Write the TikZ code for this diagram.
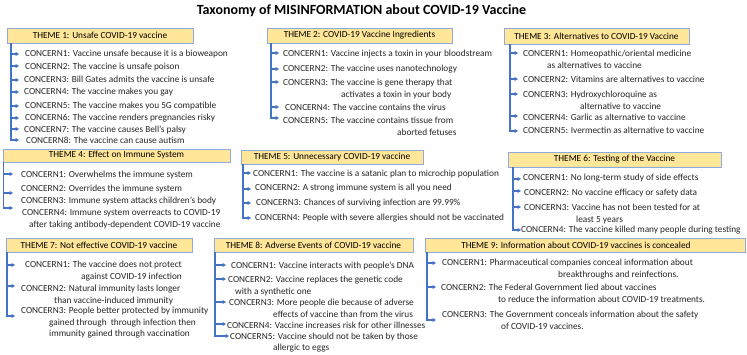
\documentclass[tikz,border=0pt]{standalone}
\usepackage{fontspec}
\setmainfont{Carlito}
\usetikzlibrary{arrows.meta}
\definecolor{linkblue}{RGB}{68,114,196}
\definecolor{boxfill}{RGB}{255,230,153}
\definecolor{boxline}{RGB}{143,170,220}
% optional arg: number of extra lines (base anchor = last line's baseline)
\newcommand\cn[5][0]{\node[concern] (#2) at (#3,#4+3+#1*11.5) {#5};}
\newcommand\ind[1]{\\\hspace*{#1pt}}
\tikzset{
  themebox/.style={draw=boxline, fill=boxfill, line width=0.9pt, inner sep=0pt,
    font=\fontsize{9.3}{11.5}\selectfont},
  concern/.style={anchor=base west, inner sep=0pt, align=left,
    font=\fontsize{9.3}{11.5}\selectfont, text=black!85},
  arr/.style={draw=linkblue, line width=1.1pt, -{Triangle[length=3.4pt,width=3.8pt]}},
}
\begin{document}
\begin{tikzpicture}[x=1pt,y=-1pt]
\useasboundingbox (0,0) rectangle (747,355);
\fill[white] (0,0) rectangle (747,355);

\node[font=\fontsize{14}{16}\selectfont\bfseries] (title) at (361.5,11) {Taxonomy of MISINFORMATION about COVID-19 Vaccine};

% ---------------- THEME boxes
\node[themebox, minimum width=186pt, minimum height=15pt] (t1) at (100,35.5) {THEME 1: Unsafe COVID-19 vaccine};
\node[themebox, minimum width=185pt, minimum height=15pt] (t2) at (359.5,35.5) {THEME 2: COVID-19 Vaccine Ingredients};
\node[themebox, minimum width=185pt, minimum height=16pt] (t3) at (596.5,36) {THEME 3: Alternatives to COVID-19 Vaccine};
\node[themebox, minimum width=227pt, minimum height=13pt] (t4) at (116.5,155.5) {THEME 4: Effect on Immune System};
\node[themebox, minimum width=182pt, minimum height=14pt] (t5) at (332,157) {THEME 5: Unnecessary COVID-19 vaccine};
\node[themebox, minimum width=213pt, minimum height=15pt] (t6) at (614.5,159.5) {THEME 6: Testing of the Vaccine};
\node[themebox, minimum width=186pt, minimum height=14pt] (t7) at (99,245) {THEME 7: Not effective COVID-19 vaccine};
\node[themebox, minimum width=199pt, minimum height=14pt] (t8) at (313.5,245) {THEME 8: Adverse Events of COVID-19 vaccine};
\node[themebox, minimum width=320pt, minimum height=14pt] (t9) at (585,245) {THEME 9: Information about COVID-19 vaccines is concealed\hspace*{18pt}};

% ---------------- THEME 1
\cn{t1c1}{25}{54}{CONCERN1: Vaccine unsafe because it is a bioweapon}
\cn{t1c2}{25}{67}{CONCERN2: The vaccine is unsafe poison}
\cn{t1c3}{24}{80}{CONCERN3: Bill Gates admits the vaccine is unsafe}
\cn{t1c4}{24}{92}{CONCERN4: The vaccine makes you gay}
\cn{t1c5}{25}{106}{CONCERN5: The vaccine makes you 5G compatible}
\cn{t1c6}{25}{118}{CONCERN6: The vaccine renders pregnancies risky}
\cn{t1c7}{24}{130}{CONCERN7: The vaccine causes Bell’s palsy}
\cn{t1c8}{26}{141}{CONCERN8: The vaccine can cause autism}
\coordinate (k1) at (11,0);
\foreach \n/\yy in {1/54,2/66,3/80,4/92,5/106,6/118,7/129,8/140}
  \coordinate (t1e\n) at (19,\yy);
\draw[arr] (t1.south -| k1) |- (t1e8);
\foreach \n in {1,...,7} \draw[arr] (k1 |- t1e\n) -- (t1e\n);

% ---------------- THEME 2
\cn{t2c1}{283}{54}{CONCERN1: Vaccine injects a toxin in your bloodstream}
\cn{t2c2}{283}{69}{CONCERN2: The vaccine uses nanotechnology}
\cn[1]{t2c3}{283}{83}{CONCERN3: The vaccine is gene therapy that\ind{58}activates a toxin in your body}
\cn{t2c4}{285}{108}{CONCERN4: The vaccine contains the virus}
\cn[1]{t2c5}{283}{121}{CONCERN5: The vaccine contains tissue from\ind{114}aborted fetuses}
\coordinate (k2) at (271,0);
\foreach \n/\yy in {1/53,2/69,3/82,4/107,5/118}
  \coordinate (t2e\n) at (279,\yy);
\draw[arr] (t2.south -| k2) |- (t2e5);
\foreach \n in {1,...,4} \draw[arr] (k2 |- t2e\n) -- (t2e\n);

% ---------------- THEME 3
\cn[1]{t3c1}{523}{54}{CONCERN1: Homeopathic/oriental medicine\ind{24}as alternatives to vaccine}
\cn{t3c2}{523}{80}{CONCERN2: Vitamins are alternatives to vaccine}
\cn[1]{t3c3}{523}{95}{CONCERN3: Hydroxychloroquine as\ind{57}alternative to vaccine}
\cn{t3c4}{523}{118}{CONCERN4: Garlic as alternative to vaccine}
\cn{t3c5}{523}{131}{CONCERN5: Ivermectin as alternative to vaccine}
\coordinate (k3) at (510,0);
\foreach \n/\yy in {1/53,2/79,3/94,4/116,5/131}
  \coordinate (t3e\n) at (518,\yy);
\draw[arr] (t3.south -| k3) |- (t3e5);
\foreach \n in {1,...,4} \draw[arr] (k3 |- t3e\n) -- (t3e\n);

% ---------------- THEME 4
\cn{t4c1}{21}{175}{CONCERN1: Overwhelms the immune system}
\cn{t4c2}{21}{189}{CONCERN2: Overrides the immune system}
\cn{t4c3}{21}{201}{CONCERN3: Immune system attacks children’s body}
\cn[1]{t4c4}{22}{213}{CONCERN4: Immune system overreacts to COVID-19\ind{7}after taking antibody-dependent COVID-19 vaccine}
\coordinate (k4) at (3.5,0);
\foreach \n/\yy in {1/174,2/193,3/208}
  \coordinate (t4e\n) at (13,\yy);
\draw[arr] (t4.south -| k4) |- (t4e3);
\foreach \n in {1,2} \draw[arr] (k4 |- t4e\n) -- (t4e\n);

% ---------------- THEME 5
\cn{t5c1}{253}{174}{CONCERN1: The vaccine is a satanic plan to microchip population}
\cn{t5c2}{255}{188}{CONCERN2: A strong immune system is all you need}
\cn{t5c3}{256}{203}{CONCERN3: Chances of surviving infection are 99.99\%}
\cn{t5c4}{255}{218}{CONCERN4: People with severe allergies should not be vaccinated}
\coordinate (k5) at (243,0);
\foreach \n/\yy in {1/173,2/189,3/203,4/218}
  \coordinate (t5e\n) at (251,\yy);
\draw[arr] (t5.south -| k5) |- (t5e4);
\foreach \n in {1,2,3} \draw[arr] (k5 |- t5e\n) -- (t5e\n);

% ---------------- THEME 6
\cn{t6c1}{523}{178}{CONCERN1: No long-term study of side effects}
\cn{t6c2}{524}{193}{CONCERN2: No vaccine efficacy or safety data}
\cn[1]{t6c3}{524}{208}{CONCERN3: Vaccine has not been tested for at\ind{52}least 5 years}
\cn{t6c4}{521}{230}{CONCERN4: The vaccine killed many people during testing}
\coordinate (k6) at (513,0);
\foreach \n/\yy in {1/179,2/191,3/207,4/230}
  \coordinate (t6e\n) at (521,\yy);
\draw[arr] (t6.south -| k6) |- (t6e4);
\foreach \n in {1,2,3} \draw[arr] (k6 |- t6e\n) -- (t6e\n);

% ---------------- THEME 7
\cn[1]{t7c1}{25}{265}{CONCERN1: The vaccine does not protect\ind{56}against COVID-19 infection}
\cn[1]{t7c2}{21}{289}{CONCERN2: Natural immunity lasts longer\ind{33}than vaccine-induced immunity}
\cn[2]{t7c3}{21}{311}{CONCERN3: People better protected by immunity\ind{28}gained through\ \ through infection then\ind{28}immunity gained through vaccination}
\coordinate (k7) at (7,0);
\foreach \n/\yy in {1/265,2/286,3/316}
  \coordinate (t7e\n) at (15,\yy);
\draw[arr] (t7.south -| k7) |- (t7e3);
\foreach \n in {1,2} \draw[arr] (k7 |- t7e\n) -- (t7e\n);

% ---------------- THEME 8
\cn{t8c1}{231}{266}{CONCERN1: Vaccine interacts with people’s DNA}
\cn[1]{t8c2}{228}{280}{CONCERN2: Vaccine replaces the genetic code\ind{7}with a synthetic one}
\cn[1]{t8c3}{229}{303}{CONCERN3: More people die because of adverse\ind{44}effects of vaccine than from the virus}
\cn{t8c4}{227}{325}{CONCERN4: Vaccine increases risk for other illnesses}
\cn[1]{t8c5}{230}{336}{CONCERN5: Vaccine should not be taken by those\ind{43}allergic to eggs}
\coordinate (k8) at (215,0);
\foreach \n/\yy in {1/265,2/279,3/302,4/324}
  \coordinate (t8e\n) at (226,\yy);
\coordinate (t8e5) at (229,336);
\draw[arr] (t8.south -| k8) |- (t8e5);
\foreach \n in {1,...,4} \draw[arr] (k8 |- t8e\n) -- (t8e\n);

% ---------------- THEME 9
\cn[1]{t9c1}{442}{263}{CONCERN1: Pharmaceutical companies conceal information about\ind{116}breakthroughs and reinfections.}
\cn[1]{t9c2}{441}{288}{CONCERN2: The Federal Government lied about vaccines\ind{57}to reduce the information about COVID-19 treatments.}
\cn[1]{t9c3}{442}{315}{CONCERN3: The Government conceals information about the safety\ind{59}of COVID-19 vaccines.}
\coordinate (k9) at (427,0);
\foreach \n/\yy in {1/263,2/287,3/320}
  \coordinate (t9e\n) at (436,\yy);
\draw[arr] (t9.south -| k9) |- (t9e3);
\foreach \n in {1,2} \draw[arr] (k9 |- t9e\n) -- (t9e\n);
\end{tikzpicture}
\end{document}
